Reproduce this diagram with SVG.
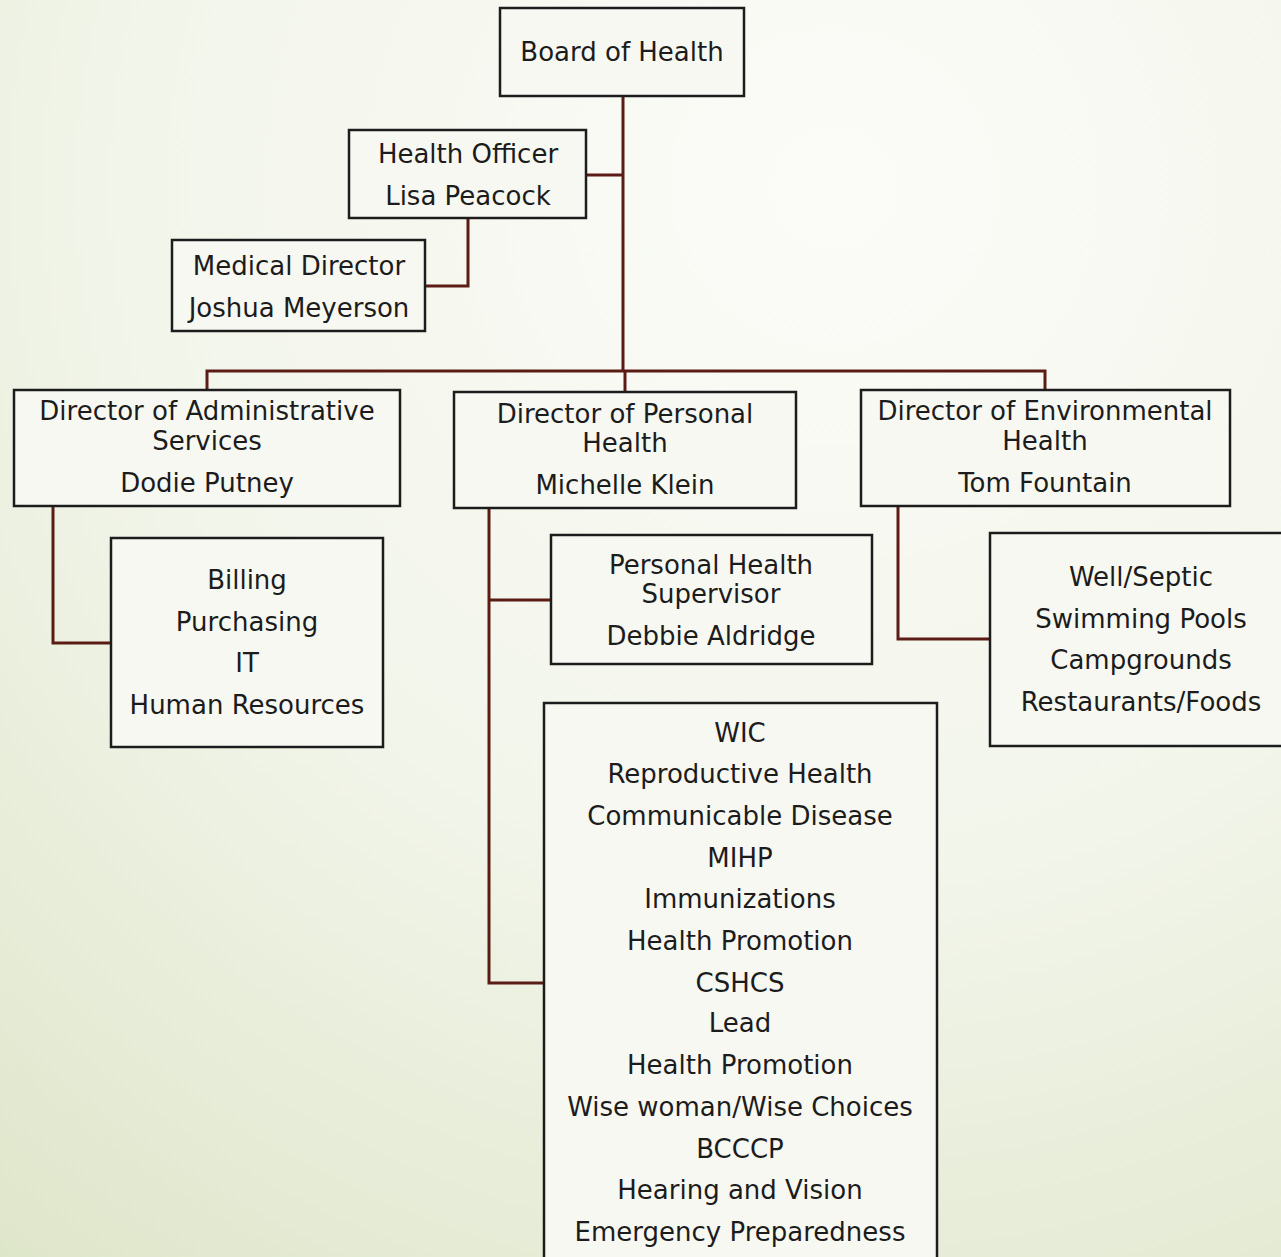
<svg xmlns="http://www.w3.org/2000/svg" width="1281" height="1257" viewBox="0 0 1281 1257">
<defs>
<radialGradient id="bg" cx="0.65" cy="0.15" r="1.1">
<stop offset="0" stop-color="#fbfcf8"/>
<stop offset="0.5" stop-color="#f2f5ea"/>
<stop offset="1" stop-color="#dde5c8"/>
</radialGradient>
<style>
.box{fill:#f7f8f2;stroke:#1c1c1c;stroke-width:2.5}
.t{font-family:"DejaVu Sans","Liberation Sans",sans-serif;font-size:26px;fill:#1c1c1c;text-anchor:middle}
.c{fill:none;stroke:#5a1c14;stroke-width:3}
</style>
</defs>
<rect width="1281" height="1257" fill="url(#bg)"/>
<g id="connectors">
<path class="c" d="M623 96V372"/>
<path class="c" d="M586 175H623"/>
<path class="c" d="M468 218V286H425"/>
<path class="c" d="M207 390V371H1045V390"/>
<path class="c" d="M625 371V392"/>
<path class="c" d="M53 506V643H111"/>
<path class="c" d="M489 508V983H544"/>
<path class="c" d="M489 600H551"/>
<path class="c" d="M898 506V639H990"/>
</g>
<g id="board">
<rect class="box" x="500" y="8" width="244" height="88"/>
<text class="t" x="622" y="61">Board of Health</text>
</g>
<g id="health-officer">
<rect class="box" x="349" y="130" width="237" height="88"/>
<text class="t" x="468" y="163">Health Officer</text>
<text class="t" x="468" y="205">Lisa Peacock</text>
</g>
<g id="medical-director">
<rect class="box" x="172" y="240" width="253" height="91"/>
<text class="t" x="299" y="275">Medical Director</text>
<text class="t" x="299" y="317">Joshua Meyerson</text>
</g>
<g id="dir-admin">
<rect class="box" x="14" y="390" width="386" height="116"/>
<text class="t" x="207" y="420">Director of Administrative</text>
<text class="t" x="207" y="450">Services</text>
<text class="t" x="207" y="492">Dodie Putney</text>
</g>
<g id="dir-personal">
<rect class="box" x="454" y="392" width="342" height="116"/>
<text class="t" x="625" y="423">Director of Personal</text>
<text class="t" x="625" y="452">Health</text>
<text class="t" x="625" y="494">Michelle Klein</text>
</g>
<g id="dir-env">
<rect class="box" x="861" y="390" width="369" height="116"/>
<text class="t" x="1045" y="420">Director of Environmental</text>
<text class="t" x="1045" y="450">Health</text>
<text class="t" x="1045" y="492">Tom Fountain</text>
</g>
<g id="admin-units">
<rect class="box" x="111" y="538" width="272" height="209"/>
<text class="t" x="247" y="589">Billing</text>
<text class="t" x="247" y="631">Purchasing</text>
<text class="t" x="247" y="672">IT</text>
<text class="t" x="247" y="714">Human Resources</text>
</g>
<g id="ph-supervisor">
<rect class="box" x="551" y="535" width="321" height="129"/>
<text class="t" x="711" y="574">Personal Health</text>
<text class="t" x="711" y="603">Supervisor</text>
<text class="t" x="711" y="645">Debbie Aldridge</text>
</g>
<g id="ph-programs">
<rect class="box" x="544" y="703" width="393" height="570"/>
<text class="t" x="740" y="742">WIC</text>
<text class="t" x="740" y="783">Reproductive Health</text>
<text class="t" x="740" y="825">Communicable Disease</text>
<text class="t" x="740" y="867">MIHP</text>
<text class="t" x="740" y="908">Immunizations</text>
<text class="t" x="740" y="950">Health Promotion</text>
<text class="t" x="740" y="992">CSHCS</text>
<text class="t" x="740" y="1032">Lead</text>
<text class="t" x="740" y="1074">Health Promotion</text>
<text class="t" x="740" y="1116">Wise woman/Wise Choices</text>
<text class="t" x="740" y="1158">BCCCP</text>
<text class="t" x="740" y="1199">Hearing and Vision</text>
<text class="t" x="740" y="1241">Emergency Preparedness</text>
</g>
<g id="env-units">
<rect class="box" x="990" y="533" width="300" height="213"/>
<text class="t" x="1141" y="586">Well/Septic</text>
<text class="t" x="1141" y="628">Swimming Pools</text>
<text class="t" x="1141" y="669">Campgrounds</text>
<text class="t" x="1141" y="711">Restaurants/Foods</text>
</g>
</svg>
